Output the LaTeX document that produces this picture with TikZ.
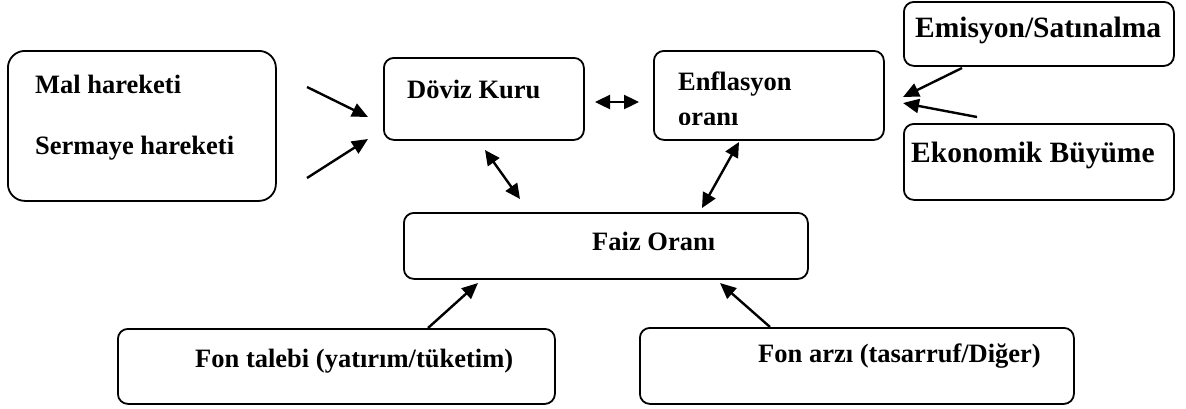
\documentclass[tikz,border=0pt]{standalone}
\usepackage{fontspec}
\setmainfont{Liberation Serif}
\usetikzlibrary{arrows.meta}
\begin{document}
\begin{tikzpicture}[x=1pt,y=-1pt,
  box/.style={draw, line width=1.8pt, rounded corners=10pt, inner sep=0pt, anchor=north west},
  lbl/.style={inner sep=0pt, anchor=base west, font=\fontsize{26.5}{30}\selectfont\bfseries},
  lblb/.style={lbl, font=\fontsize{29.5}{33}\selectfont\bfseries},
  arr/.style={line width=2.4pt, -{Triangle[length=16pt,width=14pt]}},
  darr/.style={line width=2.4pt, {Triangle[length=15pt,width=14pt]}-{Triangle[length=15pt,width=14pt]}}]
\useasboundingbox (0,0) rectangle (1186,408);

% boxes
\node[box, rounded corners=17pt, minimum width=268pt, minimum height=150pt] (mal) at (7,50) {};
\node[box, minimum width=200pt, minimum height=82pt] (doviz) at (383,57) {};
\node[box, minimum width=230pt, minimum height=89pt] (enf) at (653,50) {};
\node[box, minimum width=270pt, minimum height=64pt] (emis) at (903,1) {};
\node[box, minimum width=270pt, minimum height=76pt] (buy) at (903,123) {};
\node[box, minimum width=404pt, minimum height=66pt] (faiz) at (403,212) {};
\node[box, minimum width=437pt, minimum height=75pt] (talep) at (117,328) {};
\node[box, minimum width=434pt, minimum height=76pt] (arz) at (639,327) {};

% labels
\node[lbl] (tmal) at (35,93) {Mal hareketi};
\node[lbl] (tserm) at (35,154) {Sermaye hareketi};
\node[lbl] (tdoviz) at (407,98) {Döviz Kuru};
\node[lbl] (tenf) at (678,90) {Enflasyon};
\begin{scope}
  \clip (660,100) rectangle (870,124.2);
  \node[lbl] (toran) at (678,125.5) {oranı};
\end{scope}
\node[lblb] (temis) at (915,37) {Emisyon/Satınalma};
\node[lblb] (tbuy) at (911,162) {Ekonomik Büyüme};
\node[lbl] (tfaiz) at (592,250) {Faiz Oranı};
\node[lbl] (ttalep) at (195,367) {Fon talebi (yatırım/tüketim)};
\node[lbl] (tarz) at (758,362) {Fon arzı (tasarruf/Diğer)};

% arrow end points
\coordinate (m1s) at (307,87);  \coordinate (m1e) at (368,117);
\coordinate (m2s) at (307,178); \coordinate (m2e) at (368,139);
\coordinate (de1) at (595,102); \coordinate (de2) at (639,102);
\coordinate (df1) at (485,150); \coordinate (df2) at (520,199);
\coordinate (ef1) at (739,142); \coordinate (ef2) at (702,208);
\coordinate (ems) at (962,68);  \coordinate (eme) at (903,97);
\coordinate (bus) at (977,117); \coordinate (bue) at (903,103);
\coordinate (tas) at (428,328); \coordinate (tae) at (478,283);
\coordinate (ars) at (770,327); \coordinate (are) at (720,283);

% connectors
\draw[arr] (m1s) -- (m1e);
\draw[arr] (m2s) -- (m2e);
\draw[darr] (de1) -- (de2);
\draw[darr] (df1) -- (df2);
\draw[darr] (ef1) -- (ef2);
\draw[arr] (ems) -- (eme);
\draw[arr] (bus) -- (bue);
\draw[arr] (tas) -- (tae);
\draw[arr] (ars) -- (are);
\end{tikzpicture}
\end{document}
